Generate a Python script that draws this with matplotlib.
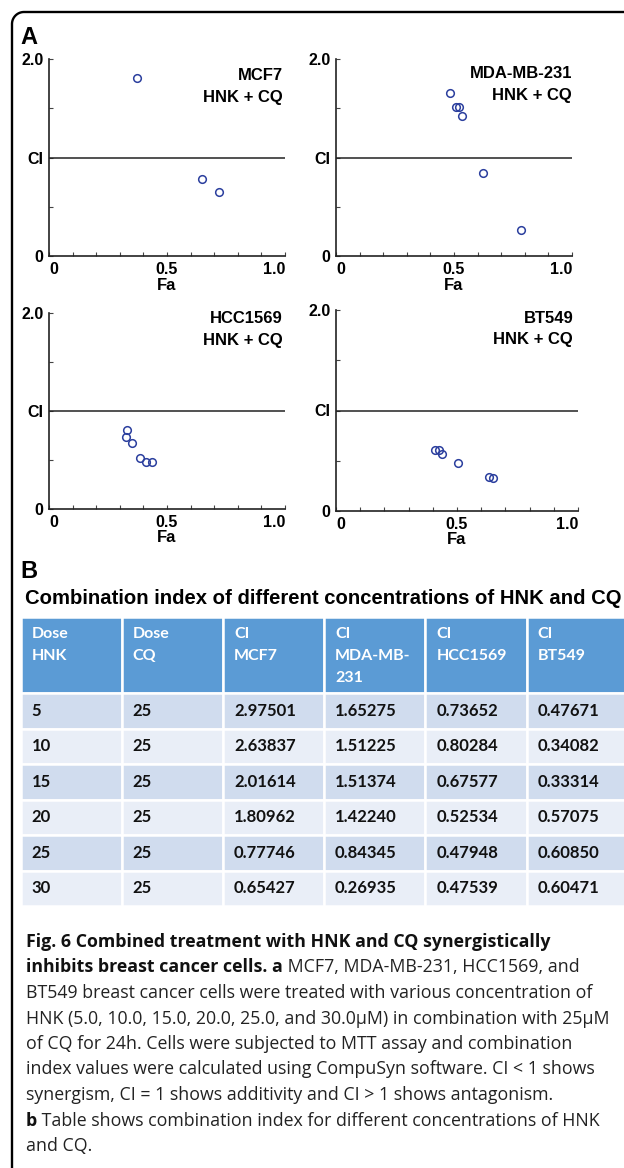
import numpy as np
import matplotlib.pyplot as plt
from matplotlib.patches import Rectangle
from matplotlib.ticker import MultipleLocator

# Fa / CI points
mcf7_fa = [0.373, 0.650, 0.720]
mcf7_ci = [1.81, 0.777, 0.654]
mda_fa = [0.483, 0.507, 0.521, 0.534, 0.621, 0.782]
mda_ci = [1.653, 1.512, 1.514, 1.422, 0.843, 0.269]
hcc_fa = [0.325, 0.329, 0.350, 0.387, 0.413, 0.438]
hcc_ci = [0.737, 0.803, 0.676, 0.525, 0.479, 0.475]
bt_fa = [0.409, 0.426, 0.438, 0.504, 0.633, 0.650]
bt_ci = [0.608, 0.605, 0.571, 0.477, 0.341, 0.333]

# table B
col_headers = ["Dose\nHNK", "Dose\nCQ", "CI\nMCF7", "CI\nMDA-MB-\n231", "CI\nHCC1569", "CI\nBT549"]
dose_hnk = [5, 10, 15, 20, 25, 30]
dose_cq = [25, 25, 25, 25, 25, 25]
ci_mcf7 = [2.97501, 2.63837, 2.01614, 1.80962, 0.77746, 0.65427]
ci_mda = [1.65275, 1.51225, 1.51374, 1.42240, 0.84345, 0.26935]
ci_hcc = [0.73652, 0.80284, 0.67577, 0.52534, 0.47948, 0.47539]
ci_bt = [0.47671, 0.34082, 0.33314, 0.57075, 0.60850, 0.60471]

W, H = 624, 1168
fig = plt.figure(figsize=(W / 100, H / 100), dpi=100)


def rect(x0, y0, x1, y1):
    return [x0 / W, 1 - y1 / H, (x1 - x0) / W, (y1 - y0) / H]


bg = fig.add_axes([0, 0, 1, 1])
bg.set_xlim(0, W)
bg.set_ylim(H, 0)
bg.axis('off')

# rounded frame: left and top edges only, running off the page
r = 12
th = np.linspace(np.pi, 1.5 * np.pi, 20)
fx = np.concatenate([[12], 12 + r + r * np.cos(th), [W + 5]])
fy = np.concatenate([[H + 5], 12 + r + r * np.sin(th), [12]])
bg.plot(fx, fy, color='black', lw=1.7, solid_capstyle='butt')

lab = dict(family='Liberation Sans', weight='bold')
bg.text(20, 38, 'A', fontsize=17, va='center', ha='left', **lab)
bg.text(20, 572, 'B', fontsize=17, va='center', ha='left', **lab)

panels = [
    ('MCF7', mcf7_fa, mcf7_ci, (49, 59, 285, 256), (0.99, 0.915, 0.806)),
    ('MDA-MB-231', mda_fa, mda_ci, (336, 59, 572, 256), (1.0, 0.925, 0.813)),
    ('HCC1569', hcc_fa, hcc_ci, (49, 313, 285, 509), (0.99, 0.972, 0.86)),
    ('BT549', bt_fa, bt_ci, (336, 310, 578, 511), (0.98, 0.96, 0.855)),
]

for name, fa, ci, box, tpos in panels:
    ax = fig.add_axes(rect(*box))
    ax.set_facecolor('none')
    ax.axhline(1.0, color='#222222', lw=1.1)
    ax.plot(fa, ci, 'o', mfc='none', mec='#2B3F9E', ms=5.5, mew=1.1)
    ax.set_xlim(0, 1.0)
    ax.set_ylim(0, 2.0)
    for s in ['top', 'right']:
        ax.spines[s].set_visible(False)
    for s in ['left', 'bottom']:
        ax.spines[s].set_linewidth(1.2)
        ax.spines[s].set_color('#222222')
    ax.set_xticks([0, 0.5, 1.0])
    ax.set_xticklabels(['0', '0.5', '1.0'])
    ax.xaxis.set_minor_locator(MultipleLocator(0.1))
    ax.set_yticks([0, 1.0, 2.0])
    ax.set_yticklabels(['0', 'CI', '2.0'])
    ax.yaxis.set_minor_locator(MultipleLocator(0.5))
    ax.tick_params(which='both', direction='in', length=3, width=0.8, color='#444444')
    ax.tick_params(axis='x', pad=4)
    ax.tick_params(axis='y', pad=4)
    for t in ax.get_xticklabels() + ax.get_yticklabels():
        t.set_fontfamily('Liberation Sans')
        t.set_fontweight('bold')
        t.set_fontsize(11.5)
    for t, ha in zip(ax.get_xticklabels(), ['left', 'center', 'right']):
        t.set_ha(ha)
    ax.set_xlabel('Fa', fontsize=12, va='center', **lab)
    ax.xaxis.set_label_coords(0.5, -29 / (box[3] - box[1]))
    ax.text(tpos[0], tpos[1], name, transform=ax.transAxes, ha='right', va='center',
            fontsize=12, **lab)
    ax.text(tpos[0], tpos[2], 'HNK + CQ', transform=ax.transAxes, ha='right', va='center',
            fontsize=12, **lab)

# table title
bg.text(25, 598, 'Combination index of different concentrations of HNK and CQ',
        fontsize=14.6, va='center', ha='left', **lab)

# table
x_left, col_w = 20.5, 101.2
head_top, head_bot = 617, 693
row_h = (906 - head_bot) / len(dose_hnk)
tfont = dict(family='Lato', weight='bold')
rows = list(zip(dose_hnk, dose_cq, ci_mcf7, ci_mda, ci_hcc, ci_bt))

for j, head in enumerate(col_headers):
    x0 = x_left + j * col_w
    bg.add_patch(Rectangle((x0, head_top), col_w, head_bot - head_top,
                           fc='#5B9BD5', ec='white', lw=1.8))
    for k, line in enumerate(head.split('\n')):
        bg.text(x0 + 11, 634 + 22 * k, line, color='white', fontsize=11.5,
                va='center', ha='left', **tfont)

for i, row in enumerate(rows):
    y0 = head_bot + i * row_h
    fc = '#D0DCEE' if i % 2 == 0 else '#E9EEF7'
    for j, val in enumerate(row):
        x0 = x_left + j * col_w
        bg.add_patch(Rectangle((x0, y0), col_w, row_h, fc=fc, ec='white', lw=1.8))
        txt = str(val) if j < 2 else f'{val:.5f}'
        bg.text(x0 + 11, y0 + row_h / 2, txt, color='#111111', fontsize=12,
                va='center', ha='left', **tfont)

# caption
cap = dict(family='Open Sans', fontsize=12.8, color='#222222', va='center', ha='left')
cap_b = dict(cap, weight='bold', color='#111111')
y0, dy = 942, 25.5
bg.text(26, y0, 'Fig. 6 Combined treatment with HNK and CQ synergistically', **cap_b)
t = bg.text(26, y0 + dy, 'inhibits breast cancer cells. a', **cap_b)
bg.annotate(' MCF7, MDA-MB-231, HCC1569, and', xy=(1, 0.5), xycoords=t, **cap)
bg.text(26, y0 + 2 * dy, 'BT549 breast cancer cells were treated with various concentration of', **cap)
bg.text(26, y0 + 3 * dy, 'HNK (5.0, 10.0, 15.0, 20.0, 25.0, and 30.0µM) in combination with 25µM', **cap)
bg.text(26, y0 + 4 * dy, 'of CQ for 24h. Cells were subjected to MTT assay and combination', **cap)
bg.text(26, y0 + 5 * dy, 'index values were calculated using CompuSyn software. CI < 1 shows', **cap)
bg.text(26, y0 + 6 * dy, 'synergism, CI = 1 shows additivity and CI > 1 shows antagonism.', **cap)
t = bg.text(26, y0 + 7 * dy, 'b', **cap_b)
bg.annotate(' Table shows combination index for different concentrations of HNK',
            xy=(1, 0.5), xycoords=t, **cap)
bg.text(26, y0 + 8 * dy, 'and CQ.', **cap)

fig.savefig('out.png', dpi=100)
